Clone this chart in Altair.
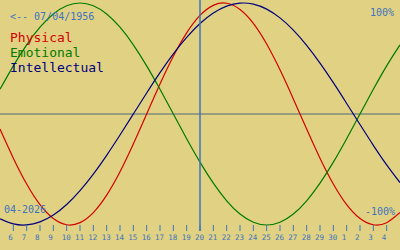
import altair as alt
import pandas as pd

# Day index 0..30 = 5 Apr 2026 .. 5 May 2026 (today = index 15, 20 Apr)
day_index = list(range(31))
tick_values = list(range(1, 30))
tick_labels = [str(d) for d in range(6, 31)] + ["1", "2", "3", "4"]

physical = [-0.136, -0.398, -0.631, -0.817, -0.942, -0.998, -0.979, -0.888, -0.731, -0.520,
            -0.270, 0.000, 0.270, 0.520, 0.731, 0.888, 0.979, 0.998, 0.942, 0.817,
            0.631, 0.398, 0.136, -0.136, -0.398, -0.631, -0.817, -0.942, -0.998, -0.979,
            -0.888]
emotional = [0.2225, 0.4339, 0.6235, 0.7818, 0.9010, 0.9749, 1.0, 0.9749, 0.9010, 0.7818,
             0.6235, 0.4339, 0.2225, 0.0, -0.2225, -0.4339, -0.6235, -0.7818, -0.9010, -0.9749,
             -1.0, -0.9749, -0.9010, -0.7818, -0.6235, -0.4339, -0.2225, 0.0, 0.2225, 0.4339,
             0.6235]
intellectual = [-0.945, -0.990, -0.999, -0.972, -0.910, -0.815, -0.690, -0.541, -0.372, -0.189,
                0.0, 0.189, 0.372, 0.541, 0.690, 0.815, 0.910, 0.972, 0.999, 0.990,
                0.945, 0.866, 0.756, 0.618, 0.458, 0.282, 0.095, -0.095, -0.282, -0.458,
                -0.618]
series_names = ["Physical", "Emotional", "Intellectual"]
series_colors = ["#d40000", "#007a00", "#00007f"]
today_index = 15

rows = []
for name, vals in zip(series_names, [physical, emotional, intellectual]):
    for i, v in zip(day_index, vals):
        rows.append({"i": i, "v": v, "s": name})
df = pd.DataFrame(rows)

ticks_df = pd.DataFrame({"i": tick_values, "lab": tick_labels})

xscale = alt.Scale(domain=[0, 30], range=[0, 400], nice=False, zero=False)
yscale = alt.Scale(domain=[-1, 1], range=[225, 3], nice=False, zero=False)

BLUE = "#3f72c0"
MONO = "DejaVu Sans Mono"

lines = alt.Chart(df).mark_line(strokeWidth=1.2, interpolate="natural", clip=True).encode(
    x=alt.X("i:Q", scale=xscale, axis=None),
    y=alt.Y("v:Q", scale=yscale, axis=None),
    color=alt.Color("s:N", scale=alt.Scale(domain=series_names, range=series_colors), legend=None),
    detail="s:N",
)

tick_marks = alt.Chart(ticks_df).mark_rule(color=BLUE, strokeWidth=1).encode(
    x=alt.X("i:Q", scale=xscale, axis=None), y=alt.value(225), y2=alt.value(231))

tick_text = alt.Chart(ticks_df).mark_text(
    font=MONO, fontSize=7.5, color=BLUE, align="left", baseline="middle", dx=-5).encode(
    x=alt.X("i:Q", scale=xscale, axis=None), y=alt.value(237.5), text="lab:N")

zero_df = pd.DataFrame({"v": [0.0]})
hline = alt.Chart(zero_df).mark_rule(color="#506a78", strokeWidth=1).encode(
    y=alt.Y("v:Q", scale=yscale, axis=None), x=alt.value(0), x2=alt.value(400))

today_df = pd.DataFrame({"i": [today_index]})
vline = alt.Chart(today_df).mark_rule(color=BLUE, strokeWidth=1.5).encode(
    x=alt.X("i:Q", scale=xscale, axis=None), y=alt.value(0), y2=alt.value(231))

def txt(text, x, y, color, size, align="left"):
    return alt.Chart(pd.DataFrame({"t": [text]})).mark_text(
        font=MONO, fontSize=size, color=color, align=align, baseline="middle").encode(
        text="t:N", x=alt.value(x), y=alt.value(y))

texts = [
    txt("<-- 07/04/1956", 10, 17, BLUE, 10),
    txt("Physical", 10, 38, series_colors[0], 13),
    txt("Emotional", 10, 53, series_colors[1], 13),
    txt("Intellectual", 10, 68, series_colors[2], 13),
    txt("100%", 394, 13, BLUE, 10, "right"),
    txt("-100%", 395, 212, BLUE, 10, "right"),
    txt("04-2026", 4, 210, BLUE, 10),
]

chart = alt.layer(hline, lines, vline, tick_marks, tick_text, *texts).properties(
    width=400, height=250, padding=0, autosize=alt.AutoSizeParams(type="none"),
    background="#e0d282",
).configure_view(stroke=None, fill="#e0d282")

chart.save("out.html", embed_options={"renderer": "svg", "actions": False})
